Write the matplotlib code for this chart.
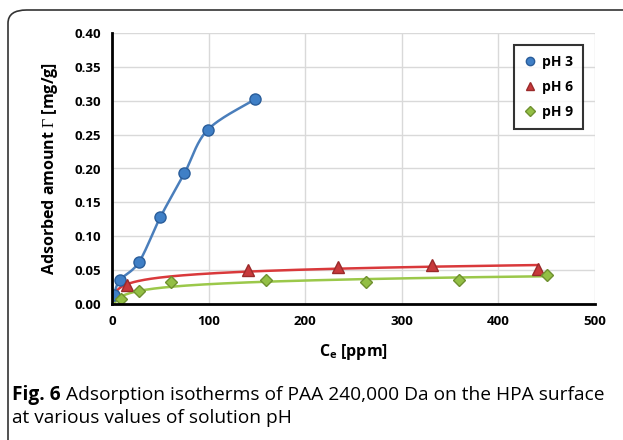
import matplotlib
matplotlib.use("Agg")
import matplotlib.pyplot as plt
from matplotlib.patches import FancyBboxPatch
import numpy as np

plt.rcParams['font.family'] = ['Open Sans', 'DejaVu Sans']
plt.rcParams['mathtext.fontset'] = 'custom'
plt.rcParams['mathtext.rm'] = 'Liberation Serif'
plt.rcParams['mathtext.bf'] = 'Open Sans:bold'

# data
ph3_x = [2, 8, 28, 50, 75, 99, 148]
ph3_y = [0.013, 0.035, 0.062, 0.128, 0.193, 0.257, 0.302]
ph6_x = [16, 141, 234, 331, 441]
ph6_y = [0.028, 0.050, 0.055, 0.057, 0.052]
ph9_x = [9, 28, 61, 159, 263, 359, 450]
ph9_y = [0.007, 0.019, 0.033, 0.035, 0.033, 0.035, 0.043]

x_ticks = [0, 100, 200, 300, 400, 500]
y_ticks = [0.00, 0.05, 0.10, 0.15, 0.20, 0.25, 0.30, 0.35, 0.40]

c_blue, c_red, c_green = "#3f7fc6", "#c8393b", "#93bf45"

ax_w, ax_h = 483, 271  # axes size in px


def smooth(xs, ys, n=30):
    # catmull-rom like the excel smoothed line, done in screen-like units
    sx, sy = ax_w / 500, ax_h / 0.4
    p = np.column_stack([np.array(xs) * sx, np.array(ys) * sy]).astype(float)
    p = np.vstack([p[0], p, p[-1]])
    out = []
    t = np.linspace(0, 1, n)[:, None]
    for i in range(1, len(p) - 2):
        p0, p1, p2, p3 = p[i - 1], p[i], p[i + 1], p[i + 2]
        seg = 0.5 * ((2 * p1) + (-p0 + p2) * t + (2 * p0 - 5 * p1 + 4 * p2 - p3) * t**2
                     + (-p0 + 3 * p1 - 3 * p2 + p3) * t**3)
        out.append(seg)
    out = np.vstack(out)
    return out[:, 0] / sx, out[:, 1] / sy


def log_trend(xs, ys):
    a, b = np.polyfit(np.log(xs), ys, 1)
    xx = np.linspace(3, max(xs), 200)
    return xx, a * np.log(xx) + b


fig = plt.figure(figsize=(6.23, 4.40), dpi=100)
fig.patches.append(FancyBboxPatch((8 / 623, 1 - 460 / 440), 700 / 623, 450 / 440,
                                  boxstyle="round,pad=0,rounding_size=0.03",
                                  transform=fig.transFigure, fc="none", ec="#333333", lw=1.2))

ax = fig.add_axes([112 / 623, 1 - 304 / 440, ax_w / 623, ax_h / 440])

sx, sy = smooth(ph3_x, ph3_y)
ax.plot(sx, sy, color="#4a7ebb", lw=1.8, zorder=3)
tx, ty = log_trend(ph6_x, ph6_y)
ax.plot(tx, ty, color="#d9393b", lw=1.8, zorder=3)
tx, ty = log_trend(ph9_x, ph9_y)
ax.plot(tx, ty, color="#9bc84a", lw=1.8, zorder=3)

ax.plot(ph3_x, ph3_y, 'o', color=c_blue, mec="#2a5d9a", ms=8, ls="none", zorder=4, label="pH 3")
ax.plot(ph6_x, ph6_y, '^', color=c_red, mec="#9a2a2a", ms=8, ls="none", zorder=4, label="pH 6")
ax.plot(ph9_x, ph9_y, 'D', color=c_green, mec="#6f9030", ms=6.5, ls="none", zorder=4, label="pH 9")

ax.set_xlim(0, 500)
ax.set_ylim(0, 0.40)
ax.set_xticks(x_ticks)
ax.set_yticks(y_ticks)
ax.set_xticklabels([str(v) for v in x_ticks], fontweight="bold", fontsize=9.5)
ax.set_yticklabels(["%.2f" % v for v in y_ticks], fontweight="bold", fontsize=9.5)
ax.tick_params(length=0, pad=8)
ax.grid(True, color="#d9d9d9", lw=1)
ax.set_axisbelow(True)
for s in ["top", "right"]:
    ax.spines[s].set_visible(False)
for s in ["left", "bottom"]:
    ax.spines[s].set_linewidth(2)
    ax.spines[s].set_zorder(5)

ax.set_xlabel(r"$\mathbf{C_e}$ [ppm]", fontweight="bold", fontsize=11.5, labelpad=10)
ax.set_ylabel(r"Adsorbed amount $\mathrm{\Gamma}$ [mg/g]", fontweight="bold", fontsize=11.5, labelpad=10)

leg = ax.legend(loc="upper right", bbox_to_anchor=(583 / 623, 1 - 45 / 440), bbox_transform=fig.transFigure,
                frameon=True, fancybox=False, edgecolor="black", prop={"weight": "bold", "size": 10},
                handlelength=0.8, handletextpad=0.5, labelspacing=0.8, borderpad=0.7,
                borderaxespad=0, markerscale=0.75)
leg.get_frame().set_linewidth(1.5)

cap_size = 13.8
t1 = fig.text(12 / 623, 1 - 395 / 440, "Fig. 6", fontweight="bold", fontsize=cap_size, va="center")
fig.canvas.draw()
bb = t1.get_window_extent()
fig.text(bb.x1 / 623 + 5 / 623, 1 - 395 / 440,
         "Adsorption isotherms of PAA 240,000 Da on the HPA surface", fontsize=cap_size, va="center")
fig.text(12 / 623, 1 - 418 / 440, "at various values of solution pH", fontsize=cap_size, va="center")

fig.savefig("out.png", dpi=100, facecolor="white")
